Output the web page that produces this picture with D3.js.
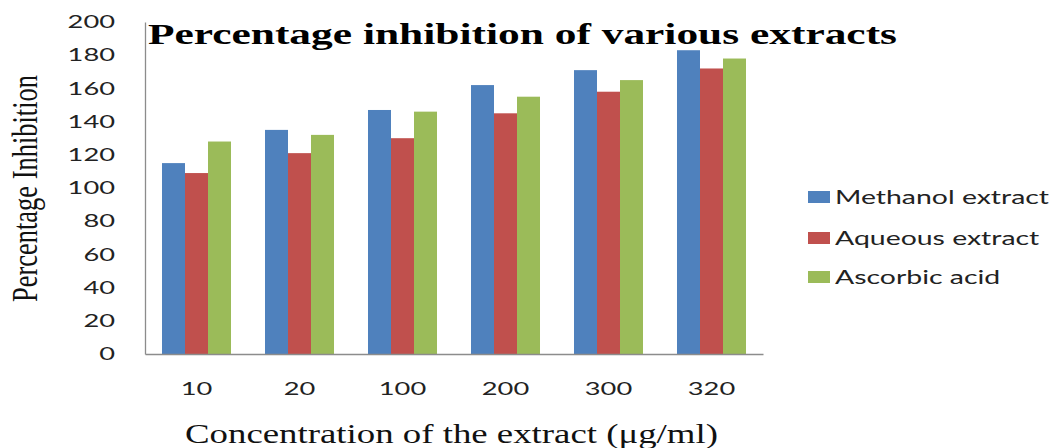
<!DOCTYPE html>
<html><head><meta charset="utf-8">
<script src="https://cdn.jsdelivr.net/npm/d3@7"></script>
<style>body{margin:0;background:#fff}svg{display:block}</style>
</head><body>
<svg id="c" width="1051" height="448"></svg>
<script>
const categories = ["10","20","100","200","300","320"];
const seriesNames = ["Methanol extract","Aqueous extract","Ascorbic acid"];
const methanol = [115,135,147,162,171,183];
const aqueous  = [109,121,130,145,158,172];
const ascorbic = [128,132,146,155,165,178];
const yTicks = [0,20,40,60,80,100,120,140,160,180,200];
const colors = ["#4F81BD","#C0504D","#9BBB59"];
const seriesValues = [methanol, aqueous, ascorbic];

const svg = d3.select("#c");
const L = 145, R = 763, T = 22, B = 354;
const x = d3.scaleBand().domain(categories).range([L,R]).paddingInner(0.33).paddingOuter(0.165);
const xs = d3.scaleBand().domain(seriesNames).range([0,x.bandwidth()]);
const y = d3.scaleLinear().domain([0,200]).range([B,T]);
const sans = "Lato, 'Open Sans', sans-serif";
const serif = "'Liberation Serif', 'Times New Roman', serif";

// bars
categories.forEach((c,i)=>{
  seriesNames.forEach((s,j)=>{
    svg.append("rect")
      .attr("x", x(c)+xs(s)).attr("width", xs.bandwidth())
      .attr("y", y(seriesValues[j][i])).attr("height", B - y(seriesValues[j][i]))
      .attr("fill", colors[j]);
  });
});

// axes
const yAxis = svg.append("g").attr("transform",`translate(${L},0)`)
  .call(d3.axisLeft(y).tickValues(yTicks).tickSize(0).tickPadding(30));
const xAxis = svg.append("g").attr("transform",`translate(0,${B})`)
  .call(d3.axisBottom(x).tickSize(0).tickPadding(29));
[yAxis,xAxis].forEach(g=>{
  g.select(".domain").attr("stroke","#8c8c8c").attr("stroke-width",1.3);
  g.selectAll("text").attr("font-family",sans).attr("font-size",18).attr("fill","#222")
    .each(function(){ const n=this.textContent.length; d3.select(this).attr("textLength", n*15.8).attr("lengthAdjust","spacingAndGlyphs"); });
});
xAxis.selectAll("text").attr("dy","0.32em").attr("y",29+6);

// title
svg.append("text").attr("x",148).attr("y",44)
  .attr("font-family",serif).attr("font-weight","bold").attr("font-size",30)
  .attr("textLength",749).attr("lengthAdjust","spacingAndGlyphs")
  .text("Percentage inhibition of various extracts");

// x title
svg.append("text").attr("x",185).attr("y",443)
  .attr("font-family",serif).attr("font-size",28).attr("fill","#111")
  .attr("textLength",533).attr("lengthAdjust","spacingAndGlyphs")
  .text("Concentration of the extract (\u03bcg/ml)");

// y title
svg.append("text").attr("transform","translate(37,302) rotate(-90)")
  .attr("font-family",serif).attr("font-size",35).attr("fill","#111")
  .attr("textLength",227).attr("lengthAdjust","spacingAndGlyphs")
  .text("Percentage Inhibition");

// legend
const legY = [197,238,277];
let k = null;
seriesNames.forEach((s,j)=>{
  svg.append("rect").attr("x",808).attr("y",legY[j]-6).attr("width",22).attr("height",12).attr("fill",colors[j]);
  const t = svg.append("text").attr("x",835).attr("y",legY[j]).attr("dy","0.35em")
    .attr("font-family",sans).attr("font-size",19.5).attr("fill","#222").text(s);
  const w = t.node().getComputedTextLength();
  if (k===null) k = 214 / w;
  t.attr("textLength", w*k).attr("lengthAdjust","spacingAndGlyphs");
});
</script>
</body></html>
